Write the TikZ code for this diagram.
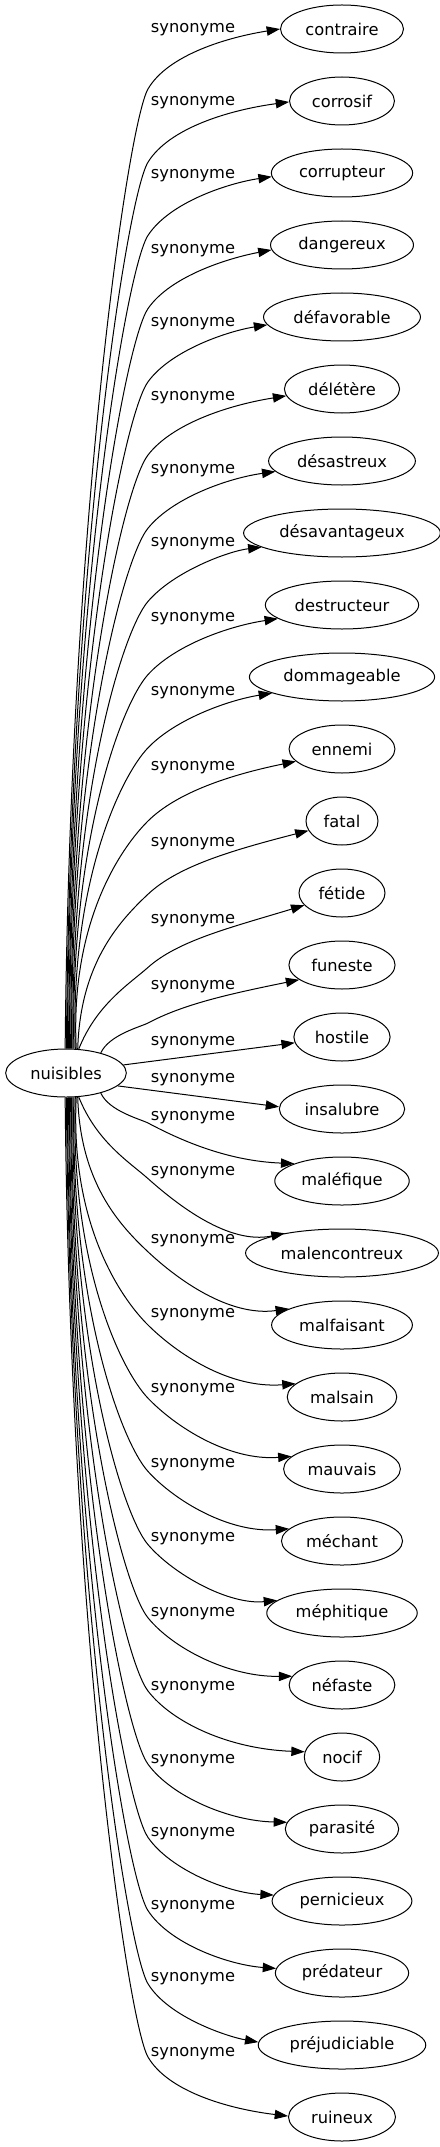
\documentclass[tikz,border=0pt]{standalone}
\usepackage{fontspec}
\setmainfont{DejaVu Sans}
\usetikzlibrary{arrows.meta,shapes.geometric}

\begin{document}
\begin{tikzpicture}[
    x=0.75pt, y=-0.75pt,
    font=\fontsize{12.2}{14}\selectfont,
    word/.style={draw, ellipse, line width=0.75pt, minimum height=36pt,
      minimum width=54pt, inner xsep=5.2pt, inner ysep=0pt},
    syn/.style={line width=0.75pt, -{Triangle[length=10pt, width=7pt]}},
    lbl/.style={anchor=mid, inner sep=0pt}
  ]
  \useasboundingbox (0,0) rectangle (439,2147);
  \node[word] (n) at (66,1073) {nuisibles};
  \foreach \word/\lab [count=\idx from 0] in {contraire/29, corrosif/102,
      corrupteur/175, dangereux/250, défavorable/323, délétère/397,
      désastreux/470, désavantageux/543, destructeur/618, dommageable/692,
      ennemi/767, fatal/843, fétide/920, funeste/986, hostile/1042,
      insalubre/1079, maléfique/1117, malencontreux/1172, malfaisant/1240,
      malsain/1314, mauvais/1389, méchant/1464, méphitique/1538,
      néfaste/1613, nocif/1687, parasité/1760, pernicieux/1833,
      prédateur/1906, préjudiciable/1978, ruineux/2053}{
    \pgfmathsetmacro\ty{29+72*\idx}
    \node[word] (t\idx) at (342,\ty) {\word};
    \node[lbl] (s\idx) at (193,\lab) {synonyme};
    \pgfmathtruncatemacro\kk{min(\idx,29-\idx)}
    \ifnum\idx<15 \def\sg{-1}\else\def\sg{1}\fi
    \ifnum\kk<14
      \pgfmathsetmacro\wdist{max(72*(14.5-\kk)-60-1.2*\kk,50)}
      \pgfmathsetmacro\wy{1073+(\sg)*\wdist}
      \pgfmathsetmacro\dd{\wdist-24}
      \ifnum\kk=13
        \def\ang{28}
        \pgfmathtruncatemacro\sa{-30*(\sg)}
      \else
        \pgfmathsetmacro\ang{40+\dd/48.2}
        \pgfmathtruncatemacro\sa{-(92-2.5*\kk)*(\sg)}
      \fi
      \pgfmathtruncatemacro\ea{180-(\sg)*20*(1-\dd/964)}
      \pgfmathsetmacro\ctl{min(0.3*\dd,40)}
      \pgfmathsetmacro\ax{70+45*max(0,1-\dd/200)}
      \pgfmathsetmacro\ay{1073+(\sg)*(24+0.55*\dd)}
      \pgfmathsetmacro\bx{148-\ctl*cos(\ang)}
      \pgfmathsetmacro\by{\wy-(\sg)*\ctl*sin(\ang)}
      \pgfmathsetmacro\cx{148+40*cos(\ang)}
      \pgfmathsetmacro\cy{\wy+(\sg)*40*sin(\ang)}
      \ifnum\idx<15
        \pgfmathsetmacro\ey{\lab+8}
      \else\ifnum\kk=13
        \pgfmathsetmacro\ey{\ty-20}
      \else
        \pgfmathsetmacro\ey{\ty-8}
      \fi\fi
      \draw[syn] (n.\sa) .. controls (\ax,\ay) and (\bx,\by) .. (148,\wy)
        .. controls (\cx,\cy) and (229,\ey) .. (t\idx.\ea);
    \fi
  }
  \draw[syn] (n.8) -- (t14.187);
  \draw[syn] (n.-14) -- (t15.178);
\end{tikzpicture}
\end{document}
